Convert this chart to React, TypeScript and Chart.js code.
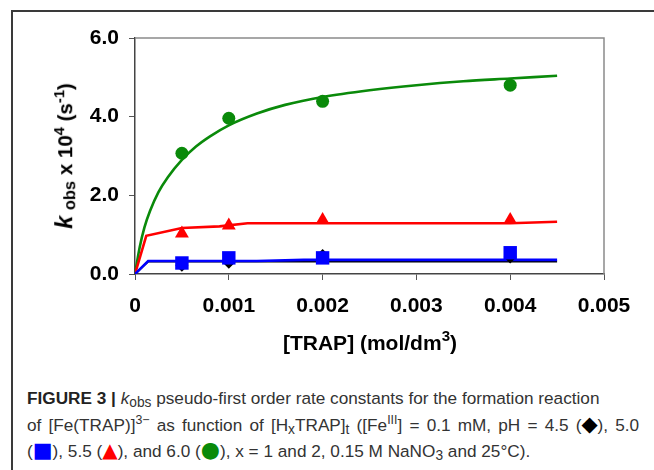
import React, { useEffect, useRef } from "react";
import { Chart, registerables } from "chart.js";

Chart.register(...registerables);

// Measured points (x = [TRAP] mol/dm3, y = kobs x 10^4 s^-1)
const pointX = [0.0005, 0.001, 0.002, 0.004];
const ph45Values = [0.22, 0.3, 0.47, 0.43];
const ph50Values = [0.28, 0.41, 0.41, 0.54];
const ph55Values = [1.03, 1.23, 1.37, 1.37];
const ph60Values = [3.07, 3.96, 4.39, 4.8];

// Fitted curves
const fit45X = [0, 0.00014, 0.0045];
const fit45Y = [0, 0.32, 0.32];
const fit50X = [0, 0.00014, 0.0013, 0.0018, 0.0045];
const fit50Y = [0, 0.33, 0.33, 0.36, 0.36];
const fit55X = [0, 0.00012, 0.0005, 0.0009, 0.0012, 0.004, 0.0045];
const fit55Y = [0, 0.97, 1.17, 1.21, 1.29, 1.29, 1.33];
const fit60X = [0, 0.00005, 0.0001, 0.00016, 0.00025, 0.00035, 0.0005, 0.00065, 0.0008, 0.001, 0.0013, 0.0016, 0.002, 0.0025, 0.003, 0.0035, 0.004, 0.0045];
const fit60Y = [0, 0.68, 1.18, 1.6, 2.08, 2.46, 2.9, 3.24, 3.5, 3.78, 4.08, 4.3, 4.5, 4.67, 4.8, 4.9, 4.97, 5.04];

const xTicks = [0, 0.001, 0.002, 0.003, 0.004, 0.005];
const yTicks = [0, 2, 4, 6];

const GREEN = "#0a8a0a";
const RED = "#ff0000";
const BLUE = "#0000ff";
const BLACK = "#000000";

const zip = (xs: number[], ys: number[]) => xs.map((x, i) => ({ x, y: ys[i] }));

const framePlugin = {
  id: "frameLines",
  afterDatasetsDraw(chart: any) {
    const { ctx, chartArea } = chart;
    ctx.save();
    ctx.strokeStyle = "#8a8a8a";
    ctx.lineWidth = 1.5;
    ctx.beginPath();
    ctx.moveTo(chartArea.left, chartArea.top);
    ctx.lineTo(chartArea.right, chartArea.top);
    ctx.lineTo(chartArea.right, chartArea.bottom);
    ctx.stroke();
    ctx.restore();
  },
};

export default function App() {
  const ref = useRef<HTMLCanvasElement | null>(null);

  useEffect(() => {
    if (!ref.current) return;
    const lineDs = (label: string, xs: number[], ys: number[], color: string, order: number, smooth = false, w = 2.6) => ({
      type: "scatter" as const,
      label,
      data: zip(xs, ys),
      showLine: true,
      borderColor: color,
      backgroundColor: color,
      borderWidth: w,
      pointRadius: 0,
      cubicInterpolationMode: smooth ? "monotone" : "default",
      tension: 0,
      order,
    });
    const ptDs = (label: string, ys: number[], color: string, style: string, r: number, order: number) => ({
      type: "scatter" as const,
      label,
      data: zip(pointX, ys),
      showLine: false,
      pointStyle: style,
      pointRadius: r,
      pointBackgroundColor: color,
      pointBorderColor: color,
      pointBorderWidth: 0,
      order,
    });
    const tickFont = { family: "Liberation Sans, Arial, sans-serif", size: 21, weight: "bold" };
    const chart = new Chart(ref.current, {
      type: "scatter",
      data: {
        datasets: [
          ptDs("pH 5.0", ph50Values, BLUE, "rect", 9.5, 1),
          ptDs("pH 4.5", ph45Values, BLACK, "rectRot", 6.5, 2),
          ptDs("pH 5.5", ph55Values, RED, "triangle", 8, 3),
          ptDs("pH 6.0", ph60Values, GREEN, "circle", 6.5, 4),
          lineDs("fit 5.0", fit50X, fit50Y, BLUE, 11),
          lineDs("fit 5.5", fit55X, fit55Y, RED, 12),
          lineDs("fit 6.0", fit60X, fit60Y, GREEN, 13, true),
          lineDs("fit 4.5", fit45X, fit45Y, BLACK, 14, false, 2),
        ] as any,
      },
      options: {
        responsive: false,
        animation: false,
        events: [],
        layout: { padding: { left: 0, top: 38, right: 50, bottom: 0 } },
        plugins: { legend: { display: false }, tooltip: { enabled: false } },
        scales: {
          x: {
            type: "linear",
            min: 0,
            max: 0.005,
            afterFit: (s: any) => {
              s.height = 96;
            },
            afterBuildTicks: (s: any) => {
              s.ticks = xTicks.map((v) => ({ value: v }));
            },
            ticks: {
              color: "#000",
              font: tickFont,
              padding: 14,
              maxRotation: 0,
              autoSkip: false,
              callback: (v: any) => (Number(v) === 0 ? "0" : Number(v).toFixed(3)),
            },
            grid: { display: true, drawOnChartArea: false, drawTicks: true, tickLength: 6, color: "#555", lineWidth: 1 },
            border: { display: true, color: "#444", width: 1.5 },
          },
          y: {
            type: "linear",
            min: 0,
            max: 6,
            afterFit: (s: any) => {
              s.width = 135;
            },
            afterBuildTicks: (s: any) => {
              s.ticks = yTicks.map((v) => ({ value: v }));
            },
            ticks: {
              color: "#000",
              font: tickFont,
              padding: 10,
              callback: (v: any) => Number(v).toFixed(1),
            },
            grid: { display: true, drawOnChartArea: false, drawTicks: true, tickLength: 6, color: "#555", lineWidth: 1 },
            border: { display: true, color: "#444", width: 1.5 },
          },
        },
      } as any,
      plugins: [framePlugin],
    });
    return () => chart.destroy();
  }, []);

  const boldT: React.CSSProperties = {
    fontFamily: "Liberation Sans, Arial, sans-serif",
    fontWeight: "bold",
    fontSize: 21,
    color: "#000",
    whiteSpace: "nowrap",
    position: "absolute",
    lineHeight: 1,
  };
  const cap: React.CSSProperties = {
    position: "absolute",
    left: 27,
    fontFamily: "Liberation Sans, Arial, sans-serif",
    fontSize: 17.2,
    color: "#333",
    whiteSpace: "nowrap",
    lineHeight: "20px",
  };
  const sub: React.CSSProperties = { fontSize: "0.8em", verticalAlign: "-0.25em", lineHeight: 0 };
  const sup: React.CSSProperties = { fontSize: "0.72em", verticalAlign: "0.55em", lineHeight: 0 };
  const sym = (c: string, ch: string, fs = 19): React.ReactNode => (
    <span style={{ color: c, fontFamily: "DejaVu Sans, sans-serif", fontSize: fs, lineHeight: 0 }}>{ch}</span>
  );

  return (
    <div style={{ position: "fixed", left: 0, top: 0, width: 654, height: 470, overflow: "hidden", background: "#fff" }}>
      <div
        style={{
          position: "absolute",
          left: 11,
          top: 10,
          width: 900,
          height: 700,
          borderLeft: "2px solid #3a3a3a",
          borderTop: "2px solid #3a3a3a",
        }}
      />
      <canvas ref={ref} width={654} height={370} style={{ position: "absolute", left: 0, top: 0, width: 654, height: 370 }} />
      <div
        style={{
          ...boldT,
          fontSize: 20.5,
          left: 65,
          top: 156,
          transform: "translate(-50%, -50%) rotate(-90deg)",
        }}
      >
        <i style={{ fontSize: "1.15em" }}>k</i> <span style={{ fontSize: "0.8em", verticalAlign: "-0.2em", lineHeight: 0 }}>obs</span> x 10
        <span style={sup}>4</span> (s<span style={sup}>-1</span>)
      </div>
      <div style={{ ...boldT, left: 370, top: 342, transform: "translate(-50%, -50%)" }}>
        [TRAP] (mol/dm<span style={sup}>3</span>)
      </div>
      <div style={{ ...cap, top: 388 }}>
        <b style={{ color: "#222" }}>FIGURE 3 |</b> <i>k</i>
        <span style={sub}>obs</span> pseudo-first order rate constants for the formation reaction
      </div>
      <div style={{ ...cap, top: 415, wordSpacing: 2.4 }}>
        of [Fe(TRAP)]<span style={sup}>3−</span> as function of [H<span style={sub}>x</span>TRAP]<span style={sub}>t</span> ([Fe
        <span style={sup}>III</span>] = 0.1 mM, pH = 4.5 ({sym(BLACK, "◆", 21)}), 5.0
      </div>
      <div style={{ ...cap, top: 441 }}>
        ({sym(BLUE, "■", 21)}), 5.5 ({sym(RED, "▲", 20)}), and 6.0 ({sym(GREEN, "●", 22)}), x = 1 and 2, 0.15 M NaNO
        <span style={sub}>3</span> and 25°C).
      </div>
    </div>
  );
}
